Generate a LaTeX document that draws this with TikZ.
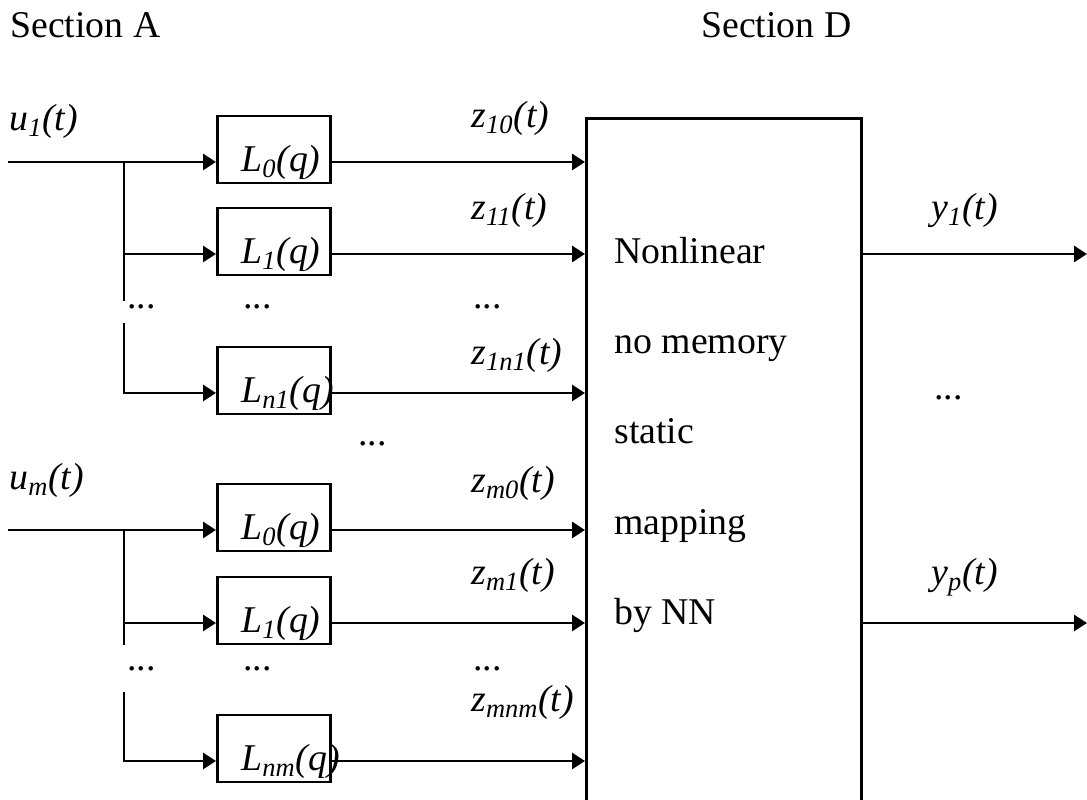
\documentclass[tikz,border=0pt]{standalone}
\usepackage{fontspec}
\setmainfont{Liberation Serif}
\usetikzlibrary{arrows.meta}

\begin{document}
\begin{tikzpicture}[
        >= {Triangle[length=0.26cm, width=0.32cm]}, % arrow head style
        line width = 1.6pt, % line style
        every node/.style = {font = \fontsize{21.5pt}{26pt}\selectfont}
        ]

        \tikzstyle{filter}=[
            draw = black,
            inner xsep = 0.48cm,
            inner ysep = 0pt,
            text width = 1.30cm,
            text height = 1.12cm,
            text depth = 0.22cm,
            align = left,
            anchor = base west,
            font = \fontsize{21.5pt}{26pt}\selectfont\itshape
        ]
        \tikzstyle{lbl}=[anchor = base west, inner sep = 0pt, font = \fontsize{21.5pt}{26pt}\selectfont\itshape]
        \tikzstyle{txt}=[anchor = base west, inner sep = 0pt]

\useasboundingbox (0,0) rectangle (21.74,16);

\node[txt] (secA) at (0.18,15.24) {Section A};
\node[txt] (secD) at (14.0,15.24) {Section D};

% first input and its filters
\node[lbl] (u1) at (0.16,13.38) {u\textsubscript{1}(t)};
\coordinate (in1) at (0.16,12.76);
\coordinate (b10) at (2.48,12.76);
\coordinate (b11) at (2.48,10.92);
\coordinate (b1a) at (2.48,9.98);
\coordinate (b1b) at (2.48,9.54);
\coordinate (b1n) at (2.48,8.14);

\node[filter] (L10) at (4.32,12.56) {L\textsubscript{0}(q)};
\node[filter] (L11) at (4.32,10.72) {L\textsubscript{1}(q)};
\node[filter] (L1n) at (4.32,7.94) {L\textsubscript{n1}(q)};

% last input and its filters
\node[lbl] (um) at (0.16,6.20) {u\textsubscript{m}(t)};
\coordinate (inm) at (0.16,5.40);
\coordinate (bm0) at (2.48,5.40);
\coordinate (bm1) at (2.48,3.54);
\coordinate (bma) at (2.48,3.10);
\coordinate (bmb) at (2.48,2.16);
\coordinate (bmn) at (2.48,0.78);

\node[filter] (Lm0) at (4.32,5.20) {L\textsubscript{0}(q)};
\node[filter] (Lm1) at (4.32,3.34) {L\textsubscript{1}(q)};
\node[filter] (Lmn) at (4.32,0.58) {L\textsubscript{nm}(q)};

% static map
\node[draw, inner sep = 0pt, minimum width = 5.5cm, minimum height = 14cm, anchor = north west] (NN) at (11.70,13.66) {};
\node[txt] (nn1) at (12.26,10.72) {Nonlinear};
\node[txt] (nn2) at (12.26,8.92) {no memory};
\node[txt] (nn3) at (12.26,7.12) {static};
\node[txt] (nn4) at (12.26,5.30) {mapping};
\node[txt] (nn5) at (12.26,3.50) {by NN};

% signal names
\node[lbl] (z10) at (9.40,13.44) {z\textsubscript{10}(t)};
\node[lbl] (z11) at (9.40,11.60) {z\textsubscript{11}(t)};
\node[lbl] (z1n) at (9.40,8.70) {z\textsubscript{1n1}(t)};
\node[lbl] (zm0) at (9.40,6.14) {z\textsubscript{m0}(t)};
\node[lbl] (zm1) at (9.40,4.30) {z\textsubscript{m1}(t)};
\node[lbl] (zmn) at (9.40,1.76) {z\textsubscript{mnm}(t)};

\node[lbl] (y1) at (18.60,11.60) {y\textsubscript{1}(t)};
\node[lbl] (yp) at (18.60,4.30) {y\textsubscript{p}(t)};
\coordinate (y1end) at (21.74,10.92);
\coordinate (ypend) at (21.74,3.54);

% dots
\node[txt] (d1a) at (2.52,9.82) {...};
\node[txt] (d1b) at (4.84,9.82) {...};
\node[txt] (d1c) at (9.44,9.82) {...};
\node[txt] (dmid) at (7.14,7.08) {...};
\node[txt] (dma) at (2.52,2.58) {...};
\node[txt] (dmb) at (4.84,2.58) {...};
\node[txt] (dmc) at (9.44,2.58) {...};
\node[txt] (dout) at (18.66,8.00) {...};

 \path [->] (in1) edge (L10.west |- in1);
 \path (b10) edge (b1a);
 \path [->] (b11) edge (L11.west |- b11);
 \draw [->] (b1b) -- (b1n) -- (L1n.west |- b1n);

 \path [->] (inm) edge (Lm0.west |- inm);
 \path (bm0) edge (bma);
 \path [->] (bm1) edge (Lm1.west |- bm1);
 \draw [->] (bmb) -- (bmn) -- (Lmn.west |- bmn);

 \path [->] (L10.east |- b10) edge (NN.west |- b10);
 \path [->] (L11.east |- b11) edge (NN.west |- b11);
 \path [->] (L1n.east |- b1n) edge (NN.west |- b1n);
 \path [->] (Lm0.east |- bm0) edge (NN.west |- bm0);
 \path [->] (Lm1.east |- bm1) edge (NN.west |- bm1);
 \path [->] (Lmn.east |- bmn) edge (NN.west |- bmn);

 \path [->] (NN.east |- y1end) edge (y1end);
 \path [->] (NN.east |- ypend) edge (ypend);
\end{tikzpicture}
\end{document}
